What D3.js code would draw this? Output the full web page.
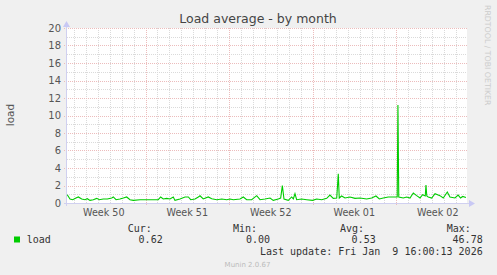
<!DOCTYPE html>
<meta charset="utf-8">
<script src="https://d3js.org/d3.v7.min.js"></script>
<style>
  body { margin: 0; background: #f0f0f0; }
  text { font-family: "DejaVu Sans", sans-serif; }
  .mono { font-family: "DejaVu Sans Mono", monospace; font-size: 10px; fill: #333; }
</style>
<div id="chart"></div>
<script>

    // days since Mon 8 Dec 2025 00:00 (UTC), and the load value
    var days = [0.44, 0.67, 0.90, 1.17, 1.37, 1.65, 1.93, 2.12, 2.35, 2.62, 2.91, 3.13, 3.46, 3.80,
                4.17, 4.30, 4.53, 4.86, 5.14, 5.42, 5.70, 5.98, 6.54, 7.10, 7.65, 8.07, 8.27, 8.49,
                8.78, 9.05, 9.33, 9.47, 9.89, 10.31, 10.59, 10.79, 11.15, 11.43, 11.57, 11.84, 12.26,
                12.55, 12.97, 13.39, 13.81, 14.08, 14.36, 14.92, 15.20, 15.48, 15.90, 16.32, 16.60,
                17.02, 17.44, 17.71, 18.13, 18.33, 18.47, 18.61, 18.97, 19.25, 19.39, 19.53, 19.67,
                20.09, 20.51, 21.01, 21.35, 21.77, 22.19, 22.46, 22.74, 23.03, 23.16, 23.24, 23.44,
                23.72, 24.14, 24.56, 24.98, 25.54, 25.96, 26.32, 26.60, 26.93, 27.35, 27.91, 28.10,
                28.16, 28.23, 28.61, 28.89, 29.17, 29.45, 29.73, 30.01, 30.23, 30.45, 30.51, 30.58,
                30.70, 30.99, 31.27, 31.68, 31.96, 32.30, 32.52, 32.94, 33.21, 33.41, 33.59, 33.86];
    var load = [0.95, 0.46, 0.38, 0.57, 0.69, 0.46, 0.38, 0.49, 0.30, 0.38, 0.53, 0.38, 0.46, 0.46,
                0.57, 0.69, 0.38, 0.46, 0.57, 0.69, 0.38, 0.30, 0.38, 0.38, 0.38, 0.38, 0.69, 0.46,
                0.53, 0.46, 0.69, 0.30, 0.46, 0.69, 0.69, 0.38, 0.46, 0.69, 0.83, 0.46, 0.69,
                0.49, 0.38, 0.46, 0.38, 0.46, 0.38, 0.46, 0.69, 0.38, 0.38, 0.84, 0.38,
                0.46, 0.57, 0.30, 0.46, 0.57, 1.98, 0.46, 0.30, 0.69, 0.46, 1.06, 0.38,
                0.46, 0.38, 0.30, 0.46, 0.38, 0.53, 0.91, 0.53, 0.57, 3.35, 0.57, 0.80,
                0.57, 0.69, 0.53, 0.57, 0.46, 0.57, 0.80, 0.46, 0.57, 0.69, 0.69, 0.69,
                11.2, 0.69, 0.57, 0.69, 0.57, 1.14, 0.84, 0.57, 0.95, 0.80, 2.05, 0.80,
                0.69, 0.57, 1.06, 0.84, 0.57, 1.26, 0.69, 0.57, 0.91, 0.57, 0.75, 0.62];

    var yTicks = [0, 2, 4, 6, 8, 10, 12, 14, 16, 18, 20];
    var weekLabels = ["Week 50", "Week 51", "Week 52", "Week 01", "Week 02"];
    var legendHeads = ["Cur:", "Min:", "Avg:", "Max:"];
    var legendValues = ["0.62", "0.00", "0.53", "46.78"];

    var base = Date.UTC(2025, 11, 8);
    var dayMs = 86400000;
    var data = days.map(function(d, i) { return {t: new Date(base + d * dayMs), v: load[i]}; });

    var W = 497, H = 275;
    var margin = {top: 28, left: 67},
        width = 400,
        height = 175;

    var svg = d3.select("#chart")
      .append("svg")
        .attr("width", W)
        .attr("height", H);

    var g = svg.append("g")
        .attr("transform", "translate(" + margin.left + "," + margin.top + ")");

    var x = d3.scaleUtc()
      .domain([new Date(base + 0.419 * dayMs), new Date(base + 33.95 * dayMs)])
      .range([0, width]);

    var y = d3.scaleLinear()
      .domain([0, 20])
      .range([height, 0]);

    g.append("rect")
      .attr("width", width)
      .attr("height", height)
      .attr("fill", "#ffffff");

    // minor grid
    var dayLines = d3.utcDay.range(x.domain()[0], x.domain()[1]);
    g.selectAll(".vday")
      .data(dayLines)
      .enter().append("line")
        .attr("x1", function(d) { return Math.round(x(d)) + 0.5; })
        .attr("x2", function(d) { return Math.round(x(d)) + 0.5; })
        .attr("y1", 0).attr("y2", height)
        .attr("stroke", "#dadada")
        .attr("stroke-dasharray", "1,1");

    g.selectAll(".hminor")
      .data(d3.range(1, 20, 2))
      .enter().append("line")
        .attr("x1", 0).attr("x2", width)
        .attr("y1", function(d) { return Math.round(y(d)) + 0.5; })
        .attr("y2", function(d) { return Math.round(y(d)) + 0.5; })
        .attr("stroke", "#dadada")
        .attr("stroke-dasharray", "1,1");

    // major grid
    var weeks = d3.utcMonday.range(x.domain()[0], x.domain()[1]);
    g.selectAll(".vweek")
      .data(weeks)
      .enter().append("line")
        .attr("x1", function(d) { return Math.round(x(d)) + 0.5; })
        .attr("x2", function(d) { return Math.round(x(d)) + 0.5; })
        .attr("y1", 0).attr("y2", height + 3)
        .attr("stroke", "#ecbcbc")
        .attr("stroke-dasharray", "1,1");

    g.selectAll(".hmajor")
      .data(yTicks)
      .enter().append("line")
        .attr("x1", -3).attr("x2", width)
        .attr("y1", function(d) { return Math.round(y(d)) + 0.5; })
        .attr("y2", function(d) { return Math.round(y(d)) + 0.5; })
        .attr("stroke", "#ecbcbc")
        .attr("stroke-dasharray", "1,1");

    // y labels
    g.selectAll(".ylab")
      .data(yTicks)
      .enter().append("text")
        .attr("x", -6)
        .attr("y", function(d) { return y(d) + 3.5; })
        .attr("text-anchor", "end")
        .attr("font-size", "10px")
        .attr("fill", "#555")
        .text(function(d) { return d; });

    // week labels, centred inside each week
    var weekStarts = [new Date(base)].concat(weeks).slice(0, weekLabels.length);
    g.selectAll(".xlab")
      .data(weekStarts)
      .enter().append("text")
        .attr("x", function(d) { return x(new Date(+d + 3.5 * dayMs)); })
        .attr("y", height + 13)
        .attr("text-anchor", "middle")
        .attr("font-size", "9.6px")
        .attr("fill", "#555")
        .text(function(d, i) { return weekLabels[i]; });

    // axes with arrows
    g.append("line")
      .attr("x1", -0.5).attr("x2", -0.5)
      .attr("y1", -2).attr("y2", height + 3)
      .attr("stroke", "#d0d0f0");
    g.append("line")
      .attr("x1", -3).attr("x2", width + 3)
      .attr("y1", height + 0.5).attr("y2", height + 0.5)
      .attr("stroke", "#d0d0f0");
    g.append("path")
      .attr("d", "M-4,-1 L-0.5,-7 L3,-1 Z")
      .attr("fill", "#c8c8f4");
    g.append("path")
      .attr("d", "M" + (width + 2) + "," + (height - 3) + " L" + (width + 8) + "," + (height + 0.5) + " L" + (width + 2) + "," + (height + 4) + " Z")
      .attr("fill", "#c8c8f4");

    // load line
    var line = d3.line()
      .x(function(d) { return x(d.t); })
      .y(function(d) { return y(d.v); });

    g.append("path")
      .datum(data)
      .attr("d", line)
      .attr("fill", "none")
      .attr("stroke", "#00cc00")
      .attr("stroke-width", 1.1);

    // titles
    svg.append("text")
      .attr("x", 258)
      .attr("y", 23)
      .attr("text-anchor", "middle")
      .attr("font-size", "12.5px")
      .attr("fill", "#444")
      .text("Load average - by month");

    svg.append("text")
      .attr("transform", "translate(14,115) rotate(-90)")
      .attr("text-anchor", "middle")
      .attr("font-size", "10.5px")
      .attr("fill", "#555")
      .text("load");

    svg.append("text")
      .attr("transform", "translate(485,5) rotate(90)")
      .attr("text-anchor", "start")
      .attr("font-size", "7.8px")
      .attr("fill", "#cccccc")
      .text("RRDTOOL / TOBI OETIKER");

    // legend
    var headX = [127.7, 233, 340, 446.7];
    var valRight = [162.7, 270, 375.7, 482.7];
    svg.selectAll(".lhead")
      .data(legendHeads)
      .enter().append("text")
        .attr("class", "mono")
        .attr("x", function(d, i) { return headX[i]; })
        .attr("y", 231.5)
        .text(function(d) { return d; });
    svg.selectAll(".lval")
      .data(legendValues)
      .enter().append("text")
        .attr("class", "mono")
        .attr("x", function(d, i) { return valRight[i]; })
        .attr("y", 242.5)
        .attr("text-anchor", "end")
        .text(function(d) { return d; });

    svg.append("rect")
      .attr("x", 14).attr("y", 236.5)
      .attr("width", 6).attr("height", 6)
      .attr("fill", "#00cc00");
    svg.append("text")
      .attr("class", "mono")
      .attr("x", 26.7).attr("y", 242.5)
      .text("load");

    svg.append("text")
      .attr("class", "mono")
      .attr("x", 482.7).attr("y", 254.5)
      .attr("text-anchor", "end")
      .attr("xml:space", "preserve")
      .style("white-space", "pre")
      .text("Last update: Fri Jan  9 16:00:13 2026");

    svg.append("text")
      .attr("x", 247.5).attr("y", 267)
      .attr("text-anchor", "middle")
      .attr("font-size", "7px")
      .attr("fill", "#bbb")
      .text("Munin 2.0.67");

</script>
